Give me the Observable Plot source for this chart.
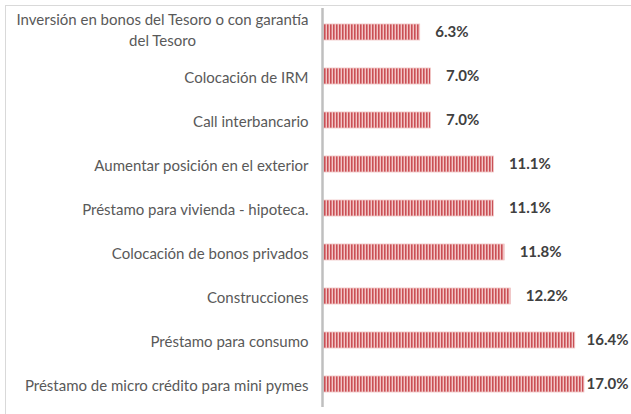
<!DOCTYPE html>
<html>
<head>
<meta charset="utf-8">
<script src="https://cdn.jsdelivr.net/npm/d3@7"></script>
<script src="https://cdn.jsdelivr.net/npm/@observablehq/plot@0.6"></script>
<style>
  html, body { margin: 0; padding: 0; background: #fff; }
  #wrap { position: relative; width: 631px; height: 414px; overflow: hidden; }
  #frame { position: absolute; left: 5px; top: 5px; width: 700px; height: 500px;
           border-top: 1.5px solid #d9d9d9; border-left: 1.5px solid #d9d9d9; pointer-events: none; }
  #chart { position: absolute; left: 0; top: 0; }
</style>
</head>
<body>
<div id="wrap"><div id="chart"></div><div id="frame"></div></div>
<script>
const categories = [
  "Inversión en bonos del Tesoro o con garantía\ndel Tesoro",
  "Colocación de IRM",
  "Call interbancario",
  "Aumentar posición en el exterior",
  "Préstamo para vivienda - hipoteca.",
  "Colocación de bonos privados",
  "Construcciones",
  "Préstamo para consumo",
  "Préstamo de micro crédito para mini pymes"
];
const values = [6.3, 7.0, 7.0, 11.1, 11.1, 11.8, 12.2, 16.4, 17.0];
const labels = ["6.3%", "7.0%", "7.0%", "11.1%", "11.1%", "11.8%", "12.2%", "16.4%", "17.0%"];

const data = categories.map((c, i) => ({cat: c, v: values[i], label: labels[i]}));

const chart = Plot.plot({
  width: 631,
  height: 414,
  marginLeft: 323,
  marginRight: 1,
  marginTop: 8,
  marginBottom: 7,
  style: {fontFamily: "Lato, 'Open Sans', sans-serif", background: "transparent"},
  x: {domain: [0, 20], axis: null},
  y: {domain: categories, paddingInner: 0.6394, paddingOuter: 0.3155, label: null},
  marks: [
    Plot.barX(data, {y: "cat", x: "v", fill: "url(#stripes)", stroke: "#f0c4c4", strokeWidth: 0.8}),
    Plot.ruleX([0], {stroke: "#bfbfbf", strokeWidth: 2.5, dx: -1}),
    Plot.axisY({tickSize: 0, tickPadding: 15, fontSize: 15, color: "#595959", lineHeight: 1.45, label: null}),
    Plot.text(data.filter(d => d.v < 16), {y: "cat", x: "v", text: "label", dx: 15, textAnchor: "start",
      fontSize: 15, fontWeight: "bold", fill: "#404040"}),
    Plot.text(data.filter(d => d.v >= 16), {y: "cat", frameAnchor: "right", text: "label", dx: -2, textAnchor: "end",
      fontSize: 15, fontWeight: "bold", fill: "#404040"})
  ]
});

// stripe pattern for bars
const ns = "http://www.w3.org/2000/svg";
const defs = document.createElementNS(ns, "defs");
defs.innerHTML = `<pattern id="stripes" patternUnits="userSpaceOnUse" x="0" y="0" width="3" height="10">
  <rect x="0" y="0" width="1" height="10" fill="#c94f55"></rect>
  <rect x="1" y="0" width="1" height="10" fill="#dc8083"></rect>
  <rect x="2" y="0" width="1" height="10" fill="#f2c6c7"></rect>
</pattern>`;
chart.insertBefore(defs, chart.firstChild);

document.getElementById("chart").appendChild(chart);

// center multi-line tick labels (as in the reference)
chart.querySelectorAll("text").forEach(t => {
  const spans = t.querySelectorAll("tspan");
  if (spans.length > 1) {
    let w = 0;
    spans.forEach(s => { w = Math.max(w, s.getComputedTextLength()); });
    t.setAttribute("text-anchor", "middle");
    const tr = t.getAttribute("transform") || "";
    t.setAttribute("transform", tr + ` translate(${-w / 2},-4)`);
  }
});
</script>
</body>
</html>
